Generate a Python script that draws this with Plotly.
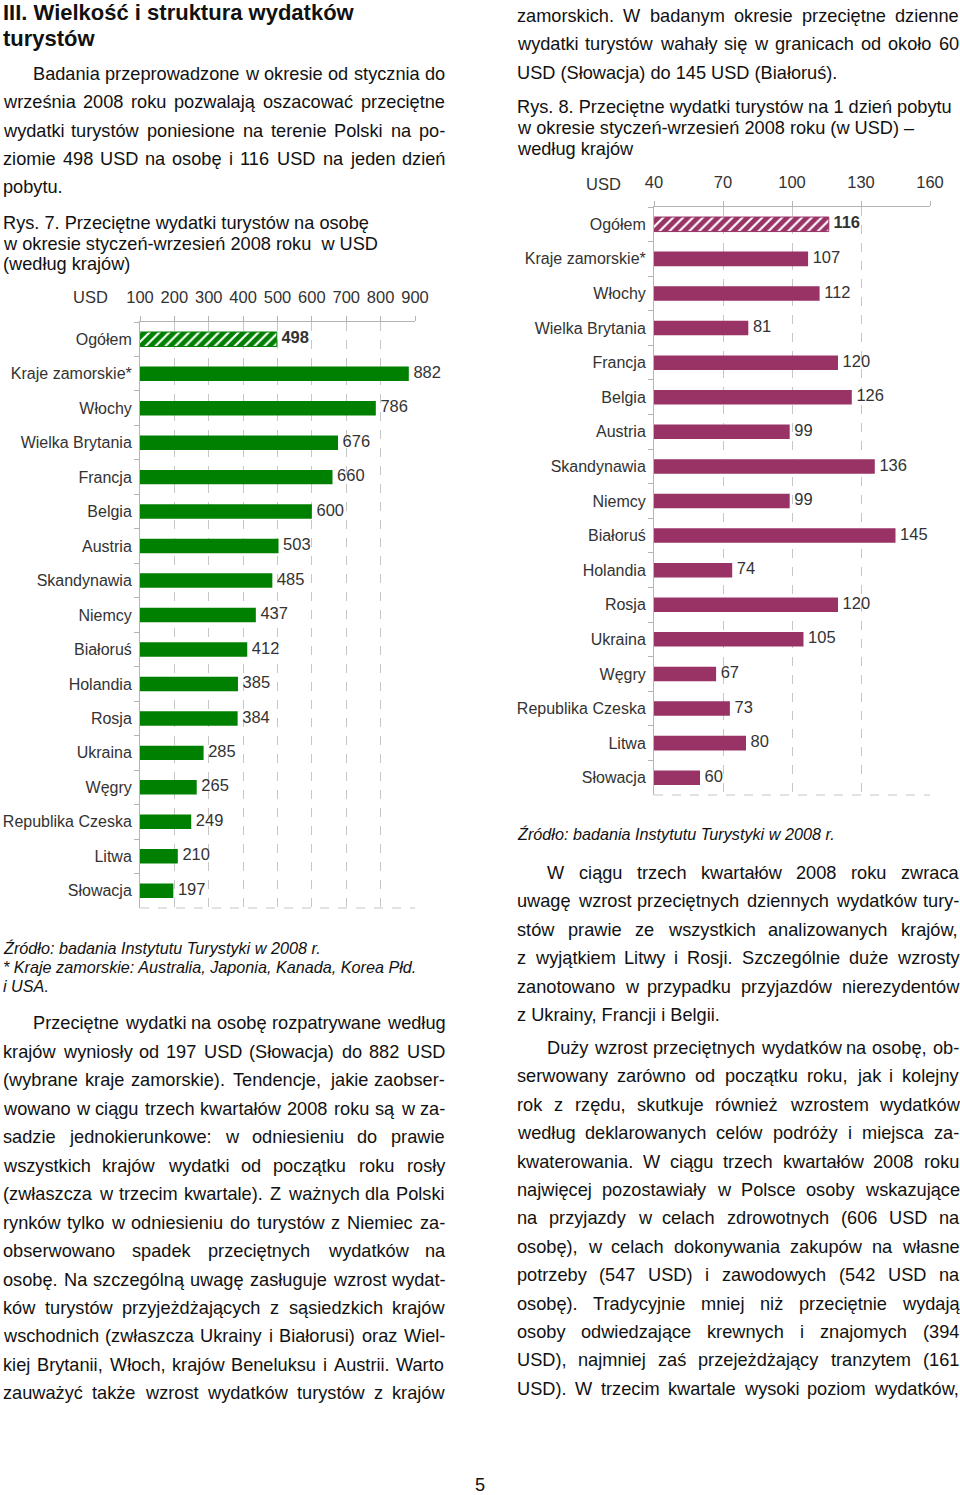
import plotly.graph_objects as go

W, H = 960, 1495

# ---- data -------------------------------------------------------------
categories = [
    "Ogółem", "Kraje zamorskie*", "Włochy", "Wielka Brytania", "Francja",
    "Belgia", "Austria", "Skandynawia", "Niemcy", "Białoruś", "Holandia",
    "Rosja", "Ukraina", "Węgry", "Republika Czeska", "Litwa", "Słowacja",
]
per_person_usd = [498, 882, 786, 676, 660, 600, 503, 485, 437, 412, 385, 384, 285, 265, 249, 210, 197]
per_day_usd = [116, 107, 112, 81, 120, 126, 99, 136, 99, 145, 74, 120, 105, 67, 73, 80, 60]
person_ticks = [100, 200, 300, 400, 500, 600, 700, 800, 900]
day_ticks = [40, 70, 100, 130, 160]

GREEN = "#008000"
PLUM = "#993366"
GRID = "#c6c6c6"
AXIS = "#b4b4b4"
LABEL = "#333333"
TEXT = "#111111"
FONT = "Liberation Sans, Arial, sans-serif"

# Arial / Liberation Sans advance widths (1/1000 em), used to justify lines
ADV = {" ": 278, "(": 333, ")": 333, "*": 389, ",": 278, "-": 333, ".": 278, ":": 278, "–": 556,
       "A": 667, "B": 667, "C": 722, "D": 722, "E": 667, "F": 611, "G": 778, "H": 722, "I": 278,
       "J": 500, "K": 667, "L": 556, "M": 833, "N": 722, "O": 778, "P": 667, "R": 722, "S": 667,
       "T": 611, "U": 722, "W": 944, "Z": 611, "Ł": 556, "Ś": 667, "Ź": 611, "Ż": 611,
       "a": 556, "b": 556, "c": 500, "d": 556, "e": 556, "f": 278, "g": 556, "h": 556, "i": 222,
       "j": 222, "k": 500, "l": 222, "m": 833, "n": 556, "o": 556, "p": 556, "q": 556, "r": 333,
       "s": 500, "t": 278, "u": 556, "v": 500, "w": 722, "x": 500, "y": 500, "z": 500,
       "ą": 556, "ć": 500, "ę": 556, "ł": 222, "ń": 556, "ó": 556, "ś": 500, "ź": 500, "ż": 500}


def text_width(s, size):
    return sum(ADV.get(ch, 556) for ch in s) * size / 1000.0


annotations = []


def put(text, x, y, size=18.2, color=TEXT, anchor="left"):
    annotations.append(dict(
        text=text, x=x / W, y=1 - y / H, xref="paper", yref="paper",
        xanchor=anchor, yanchor="middle", showarrow=False, borderpad=0,
        font=dict(family=FONT, size=size, color=color),
    ))


def paragraph(lines, x0, x1, size=18.2, indent=30):
    # lines: (text, y, justified)
    for i, (line, y, just) in enumerate(lines):
        start = x0 + (indent if i == 0 else 0)
        words = line.split()
        if not just or len(words) < 2:
            put(line, start, y, size)
            continue
        widths = [text_width(w, size) for w in words]
        gap = (x1 - start - sum(widths)) / (len(words) - 1)
        xx = start
        for w, wd in zip(words, widths):
            put(w, xx, y, size)
            xx += wd + gap


# ---- left column text ---------------------------------------------------
put("<b>III. Wielkość i struktura wydatków</b>", 2, 13, size=22)
put("<b>turystów</b>", 2, 38, size=22)

paragraph([
    ("Badania przeprowadzone w okresie od stycznia do", 74, True),
    ("września 2008 roku pozwalają oszacować przeciętne", 102, True),
    ("wydatki turystów poniesione na terenie Polski na po-", 131, True),
    ("ziomie 498 USD na osobę i 116 USD na jeden dzień", 159, True),
    ("pobytu.", 187, False),
], 2, 444)

put("Rys. 7. Przeciętne wydatki turystów na osobę", 2, 223)
put("w okresie styczeń-wrzesień 2008 roku  w USD", 2, 244)
put("(według krajów)", 2, 264)
put("USD", 72, 297, size=16.5, color=LABEL)

put("<i>Źródło: badania Instytutu Turystyki w 2008 r.</i>", 2, 948, size=16.2)
put("<i>* Kraje zamorskie: Australia, Japonia, Kanada, Korea Płd.</i>", 2, 967, size=16.2)
put("<i>i USA.</i>", 2, 986, size=16.2)

paragraph([
    ("Przeciętne wydatki na osobę rozpatrywane według", 1023, True),
    ("krajów wyniosły od 197 USD (Słowacja) do 882 USD", 1052, True),
    ("(wybrane kraje zamorskie). Tendencje, jakie zaobser-", 1080, True),
    ("wowano w ciągu trzech kwartałów 2008 roku są w za-", 1109, True),
    ("sadzie jednokierunkowe: w odniesieniu do prawie", 1137, True),
    ("wszystkich krajów wydatki od początku roku rosły", 1166, True),
    ("(zwłaszcza w trzecim kwartale). Z ważnych dla Polski", 1194, True),
    ("rynków tylko w odniesieniu do turystów z Niemiec za-", 1223, True),
    ("obserwowano spadek przeciętnych wydatków na", 1251, True),
    ("osobę. Na szczególną uwagę zasługuje wzrost wydat-", 1280, True),
    ("ków turystów przyjeżdżających z sąsiedzkich krajów", 1308, True),
    ("wschodnich (zwłaszcza Ukrainy i Białorusi) oraz Wiel-", 1336, True),
    ("kiej Brytanii, Włoch, krajów Beneluksu i Austrii. Warto", 1365, True),
    ("zauważyć także wzrost wydatków turystów z krajów", 1393, True),
], 2, 444)

# ---- right column text --------------------------------------------------
paragraph([
    ("zamorskich. W badanym okresie przeciętne dzienne", 16, True),
    ("wydatki turystów wahały się w granicach od około 60", 44, True),
    ("USD (Słowacja) do 145 USD (Białoruś).", 73, False),
], 516, 958, indent=0)

put("Rys. 8. Przeciętne wydatki turystów na 1 dzień pobytu", 516, 107)
put("w okresie styczeń-wrzesień 2008 roku (w USD) –", 516, 128)
put("według krajów", 516, 149)
put("USD", 585, 184, size=16.5, color=LABEL)

put("<i>Źródło: badania Instytutu Turystyki w 2008 r.</i>", 516, 834, size=16.2)

paragraph([
    ("W ciągu trzech kwartałów 2008 roku zwraca", 873, True),
    ("uwagę wzrost przeciętnych dziennych wydatków tury-", 901, True),
    ("stów prawie ze wszystkich analizowanych krajów,", 930, True),
    ("z wyjątkiem Litwy i Rosji. Szczególnie duże wzrosty", 958, True),
    ("zanotowano w przypadku przyjazdów nierezydentów", 987, True),
    ("z Ukrainy, Francji i Belgii.", 1015, False),
], 516, 958)

paragraph([
    ("Duży wzrost przeciętnych wydatków na osobę, ob-", 1048, True),
    ("serwowany zarówno od początku roku, jak i kolejny", 1076, True),
    ("rok z rzędu, skutkuje również wzrostem wydatków", 1105, True),
    ("według deklarowanych celów podróży i miejsca za-", 1133, True),
    ("kwaterowania. W ciągu trzech kwartałów 2008 roku", 1162, True),
    ("najwięcej pozostawiały w Polsce osoby wskazujące", 1190, True),
    ("na przyjazdy w celach zdrowotnych (606 USD na", 1218, True),
    ("osobę), w celach dokonywania zakupów na własne", 1247, True),
    ("potrzeby (547 USD) i zawodowych (542 USD na", 1275, True),
    ("osobę). Tradycyjnie mniej niż przeciętnie wydają", 1304, True),
    ("osoby odwiedzające krewnych i znajomych (394", 1332, True),
    ("USD), najmniej zaś przejeżdżający tranzytem (161", 1360, True),
    ("USD). W trzecim kwartale wysoki poziom wydatków,", 1389, True),
], 516, 958)

put("5", 480, 1485, anchor="center")

# ---- charts -------------------------------------------------------------
fig = go.Figure()


def add_chart(values, color, xa, ya):
    shapes = ["/" if c == "Ogółem" else "" for c in categories]
    lines = [1 if c == "Ogółem" else 0 for c in categories]
    fig.add_trace(go.Bar(
        x=values, y=categories, orientation="h", xaxis=xa, yaxis=ya, width=0.42,
        marker=dict(color=color, line=dict(color=color, width=lines),
                    pattern=dict(shape=shapes, fillmode="replace", fgcolor="white",
                                 bgcolor=color, size=7, solidity=0.3)),
        hoverinfo="skip", showlegend=False,
    ))
    labels = [f" <b>{v}</b>" if c == "Ogółem" else f" {v}" for c, v in zip(categories, values)]
    fig.add_trace(go.Scatter(
        x=values, y=categories, xaxis=xa, yaxis=ya, mode="text", text=labels,
        textposition="middle right", cliponaxis=False,
        textfont=dict(family=FONT, size=16.5, color=LABEL),
        hoverinfo="skip", showlegend=False,
    ))


add_chart(per_person_usd, GREEN, "x", "y")
add_chart(per_day_usd, PLUM, "x2", "y2")


def xaxis_style(dom, rng, ticks, anchor):
    return dict(domain=[dom[0] / W, dom[1] / W], range=rng, tickvals=ticks, side="top",
                anchor=anchor, automargin=False, showgrid=True, gridcolor=GRID,
                griddash="dash", gridwidth=1, showline=True, linecolor=AXIS, linewidth=1,
                ticks="outside", ticklen=5, tickcolor=AXIS, zeroline=False,
                ticklabelstandoff=6, tickfont=dict(family=FONT, size=16.5, color=LABEL))


def yaxis_style(top, bottom, anchor):
    n = len(categories)
    return dict(domain=[1 - bottom / H, 1 - top / H], type="category",
                range=[n - 0.5, -0.5], anchor=anchor, automargin=False, showgrid=False,
                showline=True, linecolor=AXIS, linewidth=1, ticks="outside",
                tickson="boundaries", ticklen=5, tickcolor=AXIS, ticklabelstandoff=4,
                tickfont=dict(family=FONT, size=16, color=LABEL))


fig.update_layout(
    width=W, height=H, margin=dict(l=0, r=0, t=0, b=0, autoexpand=False),
    paper_bgcolor="white", plot_bgcolor="white",
    font=dict(family=FONT, color=TEXT),
    xaxis=xaxis_style((140, 415), [100, 900], person_ticks, "y"),
    yaxis=yaxis_style(322, 908, "x"),
    xaxis2=xaxis_style((654, 930), [40, 160], day_ticks, "y2"),
    yaxis2=yaxis_style(207, 795, "x2"),
    annotations=annotations,
    shapes=[
        dict(type="line", xref="x domain", yref="y domain", x0=0, x1=1, y0=0, y1=0,
             line=dict(color=GRID, width=1, dash="dash")),
        dict(type="line", xref="x2 domain", yref="y2 domain", x0=0, x1=1, y0=0, y1=0,
             line=dict(color=GRID, width=1, dash="dash")),
    ],
)

# the page itself should start at the top-left corner, like the printed page
fig.write_html("out.html", config={"displayModeBar": False},
               post_script="document.body.style.margin = '0';")
